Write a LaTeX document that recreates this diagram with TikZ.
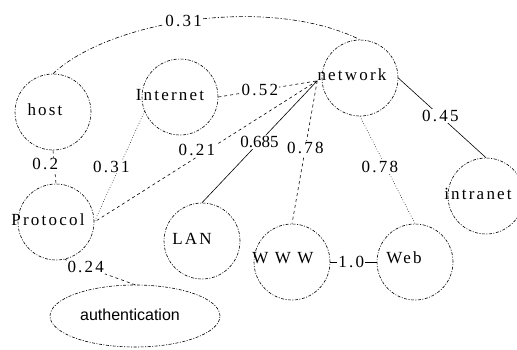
\documentclass[tikz,border=0pt]{standalone}
\usepackage{fontspec}
\setmainfont{Liberation Serif}
\newfontfamily\termfont{Liberation Serif}[LetterSpace=13]
\newfontfamily\authfont{Liberation Sans}
\usetikzlibrary{shapes.geometric}
\begin{document}
\begin{tikzpicture}
[x=1pt,y=-1pt,line width=0.6pt,
 term/.style={circle,draw,minimum size=76pt,inner sep=0pt,
   dash pattern=on 3pt off 1.5pt on 1pt off 1.5pt},
 word/.style={inner sep=0pt,font=\termfont\fontsize{17}{20}\selectfont},
 wt/.style={fill=white,inner sep=1pt,font=\termfont\fontsize{17}{20}\selectfont},
 wtplain/.style={fill=white,inner sep=1pt,font=\fontsize{17}{20}\selectfont}]
\useasboundingbox[fill=white] (0,0) rectangle (517,349);

% circles
\node[term] (host) at (53,112) {};
\node[term] (int) at (180,97) {};
\node[term] (net) at (360,78) {};
\node[term] (intr) at (486,196) {};
\node[term] (prot) at (56,222) {};
\node[term] (lan) at (202,241) {};
\node[term] (www) at (292,262) {};
\node[term] (web) at (415,262) {};
\node[ellipse,draw,minimum width=170pt,minimum height=62pt,
  dash pattern=on 3pt off 1.5pt on 1pt off 1.5pt] (auth) at (135,316) {};

% words
\node[word] (hostlbl) at (45,110) {host};
\node[word] (intlbl) at (170,95) {Internet};
\node[word] (netlbl) at (352,75) {network};
\node[word] (intrlbl) at (478,194) {intranet};
\node[word] (protlbl) at (48,220) {Protocol};
\node[word] (lanlbl) at (192,239) {LAN};
\node[word] (wwwlbl) at (283,258) {W W W};
\node[word] (weblbl) at (404,258) {Web};
\node[inner sep=0pt,font=\authfont\fontsize{16}{19}\selectfont] (authlbl)
  at (130,315) {authentication};

% weighted links
\draw[dash pattern=on 4pt off 2pt on 1pt off 2pt] (host.north)
  .. controls (110,20) and (270,-5) .. node[wt,pos=0.47] {0.31} (net.north);
\draw[dashed] (host.south) -- node[wt,pos=0.42,xshift=-9pt] {0.2} (prot.north);
\draw[dotted] (int.202) -- node[wt,pos=0.5,xshift=-8pt] {0.31} (prot.east);
\draw[dashed] (netlbl.base west) -- node[wt,pos=0.54,yshift=7pt] {0.21} (prot.east);
\draw[dashed] (int.east) -- node[wt,pos=0.42] {0.52} (netlbl.base west);
\draw (netlbl.base west) -- node[wtplain,pos=0.5] {0.685} (lan.north);
\draw[dashed] (netlbl.base west) -- node[wt,pos=0.47] {0.78} (www.north);
\draw[dotted] (net.south) -- node[wt,pos=0.47,xshift=-6pt] {0.78} (web.north);
\draw (net.east) -- node[wt,pos=0.48] {0.45} (intr.north);
\draw (www.east) -- node[wt,pos=0.45] {1.0} (web.west);
\draw[dashed] (prot.-77) -- node[wt,pos=0.3] {0.24} (auth.north);
\end{tikzpicture}
\end{document}
